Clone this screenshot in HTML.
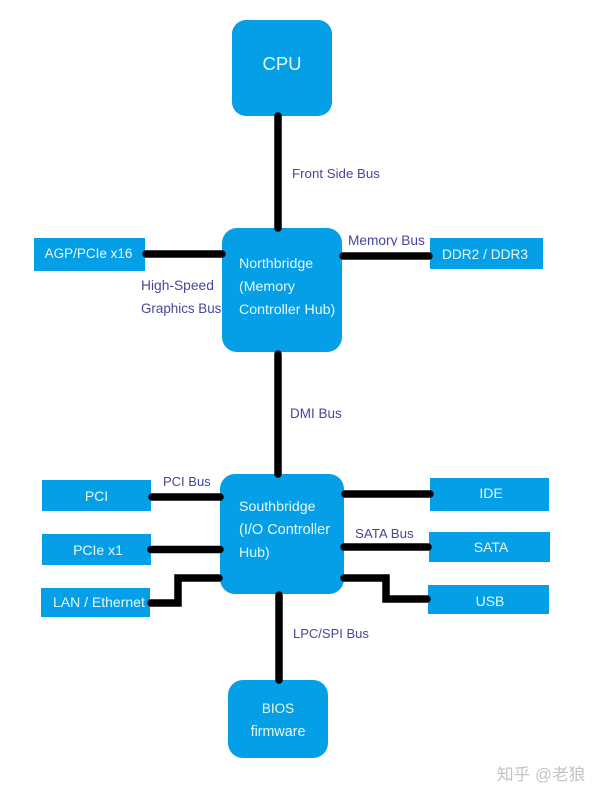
<!DOCTYPE html>
<html><head><meta charset="utf-8">
<style>
html,body{margin:0;padding:0;background:#fff}
svg{display:block}
text{font-family:"Liberation Sans","Noto Sans CJK SC",sans-serif;font-size:13px}
.w{fill:#e6f8ff}
.b{fill:#45479a}
.m{text-anchor:middle}
</style></head>
<body>
<svg width="600" height="800" viewBox="0 0 600 800" xmlns="http://www.w3.org/2000/svg">
<rect width="600" height="800" fill="#fff"/>
<g fill="#049fe6">
<rect x="232" y="20" width="100" height="96" rx="14"/>
<rect x="222" y="228" width="120" height="124" rx="15"/>
<rect x="220" y="474" width="124" height="120" rx="15"/>
<rect x="228" y="680" width="100" height="78" rx="15"/>
<rect x="34" y="238" width="111" height="33"/>
<rect x="430" y="238" width="113" height="31"/>
<rect x="42" y="480" width="109" height="31"/>
<rect x="42" y="534" width="109" height="31"/>
<rect x="41" y="588" width="109" height="29"/>
<rect x="430" y="478" width="119" height="33"/>
<rect x="429" y="532" width="121" height="30"/>
<rect x="428" y="585" width="121" height="29"/>
</g>
<text class="b" x="348" y="245" style="font-size:13.7px">Memory Bus</text>
<rect x="346" y="246" width="82" height="6" fill="#fff"/>
<g fill="none" stroke="#000" stroke-width="7.5" stroke-linecap="round" stroke-linejoin="miter">
<path d="M278 116V228"/>
<path d="M278 354V474"/>
<path d="M279 595V680"/>
<path d="M146 254H222"/>
<path d="M343 256H429"/>
<path d="M152 497H220"/>
<path d="M151 549.5H220"/>
<path d="M151 603H178V578H219"/>
<path d="M345 494H430"/>
<path d="M344 547H428"/>
<path d="M344 578H386V599H427"/>
</g>
<text class="w" x="282" y="70" text-anchor="middle" style="font-size:18.5px">CPU</text>
<text class="w" x="239" y="268" style="font-size:14.2px">Northbridge</text>
<text class="w" x="239" y="291" style="font-size:14.2px">(Memory</text>
<text class="w" x="239" y="314" style="font-size:14.2px">Controller Hub)</text>
<text class="w" x="239" y="511" style="font-size:14.2px">Southbridge</text>
<text class="w" x="239" y="534" style="font-size:14.5px">(I/O Controller</text>
<text class="w" x="239" y="557" style="font-size:14.2px">Hub)</text>
<text class="w m" x="278" y="713" style="font-size:13.5px">BIOS</text>
<text class="w m" x="278" y="736" style="font-size:14.3px">firmware</text>
<text class="w m" x="88.5" y="258" style="font-size:13.5px">AGP/PCIe x16</text>
<text class="w m" x="485" y="259" style="font-size:13.7px">DDR2 / DDR3</text>
<text class="w m" x="96.5" y="501" style="font-size:14px">PCI</text>
<text class="w m" x="98" y="555" style="font-size:14px">PCIe x1</text>
<text class="w" x="53" y="607" style="font-size:14px">LAN / Ethernet</text>
<text class="w m" x="491" y="498" style="font-size:14px">IDE</text>
<text class="w m" x="491" y="552" style="font-size:14px">SATA</text>
<text class="w m" x="490" y="606" style="font-size:14px">USB</text>
<text class="b" x="292" y="178" style="font-size:13.3px">Front Side Bus</text>
<text class="b" x="141" y="290" style="font-size:13.8px">High-Speed</text>
<text class="b" x="141" y="313" style="font-size:13.4px">Graphics Bus</text>
<text class="b" x="290" y="418" style="font-size:13.5px">DMI Bus</text>
<text class="b" x="163" y="486">PCI Bus</text>
<text class="b" x="355" y="538" style="font-size:13.3px">SATA Bus</text>
<text class="b" x="293" y="638">LPC/SPI Bus</text>
<text x="497" y="780" style="font-size:16.7px;fill:#c4c4c4">知乎 @老狼</text>
</svg>
</body></html>
